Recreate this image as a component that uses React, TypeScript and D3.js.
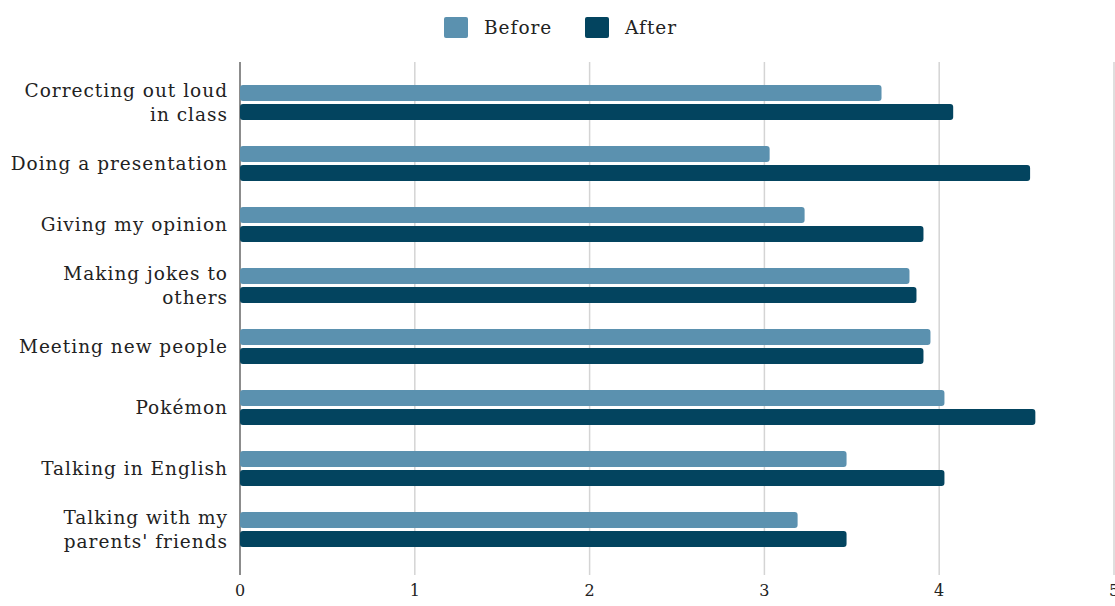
import React from "react";
import * as d3 from "d3";

const categories: string[][] = [
  ["Correcting out loud", "in class"],
  ["Doing a presentation"],
  ["Giving my opinion"],
  ["Making jokes to", "others"],
  ["Meeting new people"],
  ["Pokémon"],
  ["Talking in English"],
  ["Talking with my", "parents' friends"],
];
const beforeValues = [3.67, 3.03, 3.23, 3.83, 3.95, 4.03, 3.47, 3.19];
const afterValues = [4.08, 4.52, 3.91, 3.87, 3.91, 4.55, 4.03, 3.47];
const seriesNames = ["Before", "After"];
const seriesColors = ["#5b91af", "#03445f"];
const xTicks = [0, 1, 2, 3, 4, 5];

const W = 1115;
const H = 606;
const FONT = "'DejaVu Serif', serif";

export default function App() {
  const x = d3.scaleLinear().domain([0, 5]).range([240, 1114]);
  const y = d3
    .scaleBand<number>()
    .domain(d3.range(categories.length))
    .range([72, 560]);
  const barH = 16;
  const gap = 3;
  const series = [beforeValues, afterValues];

  return (
    <svg
      width={W}
      height={H}
      style={{ position: "absolute", left: 0, top: 0, background: "#fff" }}
      fontFamily={FONT}
    >
      {/* gridlines */}
      {xTicks.map((t) => (
        <line
          key={"g" + t}
          x1={x(t)}
          x2={x(t)}
          y1={62}
          y2={575}
          stroke={t === 0 ? "#666" : "#d4d4d4"}
          strokeWidth={1.5}
        />
      ))}
      {/* tick labels */}
      {xTicks.map((t) => (
        <text
          key={"t" + t}
          x={x(t)}
          y={596}
          textAnchor="middle"
          fontSize={16}
          fill="#222"
        >
          {t}
        </text>
      ))}
      {/* bars */}
      {categories.map((_, i) => {
        const c = (y(i) as number) + y.bandwidth() / 2;
        return series.map((vals, s) => {
          const top = s === 0 ? c - gap / 2 - barH : c + gap / 2;
          return (
            <rect
              key={`b${i}-${s}`}
              x={x(0)}
              y={top}
              width={x(vals[i]) - x(0)}
              height={barH}
              rx={3}
              fill={seriesColors[s]}
            />
          );
        });
      })}
      {/* category labels */}
      {categories.map((lines, i) => {
        const c = (y(i) as number) + y.bandwidth() / 2;
        const lh = 24;
        const start = c - ((lines.length - 1) * lh) / 2;
        return (
          <text
            key={"c" + i}
            x={228}
            textAnchor="end"
            fontSize={18.5}
            letterSpacing={1}
            fill="#222"
          >
            {lines.map((l, j) => (
              <tspan key={j} x={228} y={start + j * lh} dy="0.35em">
                {l}
              </tspan>
            ))}
          </text>
        );
      })}
      {/* legend */}
      {seriesNames.map((n, s) => {
        const lx = s === 0 ? 444 : 585;
        return (
          <g key={"l" + s}>
            <rect x={lx} y={17} width={24} height={21} rx={2} fill={seriesColors[s]} />
            <text
              x={lx + 40}
              y={27.5}
              dy="0.35em"
              fontSize={18.5}
              letterSpacing={1}
              fill="#222"
            >
              {n}
            </text>
          </g>
        );
      })}
    </svg>
  );
}
